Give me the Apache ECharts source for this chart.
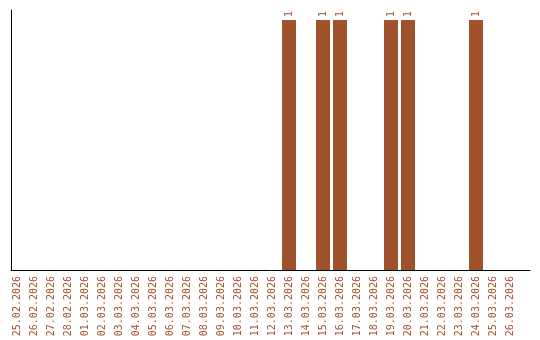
<!DOCTYPE html>
<html><head><meta charset="utf-8">
<script src="https://cdn.jsdelivr.net/npm/echarts@6/dist/echarts.min.js"></script>
<style>html,body{margin:0;padding:0;background:#fff}#c{width:540px;height:340px}</style>
</head><body><div id="c"></div>
<script>
const categories = ["25.02.2026","26.02.2026","27.02.2026","28.02.2026","01.03.2026","02.03.2026","03.03.2026","04.03.2026","05.03.2026","06.03.2026","07.03.2026","08.03.2026","09.03.2026","10.03.2026","11.03.2026","12.03.2026","13.03.2026","14.03.2026","15.03.2026","16.03.2026","17.03.2026","18.03.2026","19.03.2026","20.03.2026","21.03.2026","22.03.2026","23.03.2026","24.03.2026","25.03.2026","26.03.2026"];
const values = [0,0,0,0,0,0,0,0,0,0,0,0,0,0,0,0,1,0,1,1,0,0,1,1,0,0,0,1,0,0];
const col = '#a0522d';
const chart = echarts.init(document.getElementById('c'));
chart.setOption({
  animation: false,
  grid: [
    {left: 8.5, width: 510, top: 10, bottom: 70},
    {left: 11, right: 10, top: 10, bottom: 70}
  ],
  xAxis: [
    {type: 'category', data: categories, gridIndex: 0,
     axisLine: {show: false}, axisTick: {show: false},
     axisLabel: {interval: 0, rotate: 90, color: col, fontFamily: 'DejaVu Sans Mono', fontSize: 10, margin: 6}},
    {type: 'value', gridIndex: 1, axisLine: {show: true, lineStyle: {color: '#000', width: 1}},
     axisTick: {show: false}, axisLabel: {show: false}, splitLine: {show: false}}
  ],
  yAxis: [
    {type: 'value', gridIndex: 0, min: 0, max: 1.04, show: false, splitLine: {show: false}},
    {type: 'value', gridIndex: 1, axisLine: {show: true, lineStyle: {color: '#000', width: 1}},
     axisTick: {show: false}, axisLabel: {show: false}, splitLine: {show: false}}
  ],
  series: [{
    type: 'bar', data: values.map(v => v === 0 ? null : v), xAxisIndex: 0, yAxisIndex: 0,
    barWidth: 14,
    itemStyle: {color: col},
    label: {show: true, position: 'top', rotate: 90, color: col, fontFamily: 'DejaVu Sans Mono', fontSize: 10, distance: 3, align: 'left', verticalAlign: 'middle'}
  }]
});
</script></body></html>
